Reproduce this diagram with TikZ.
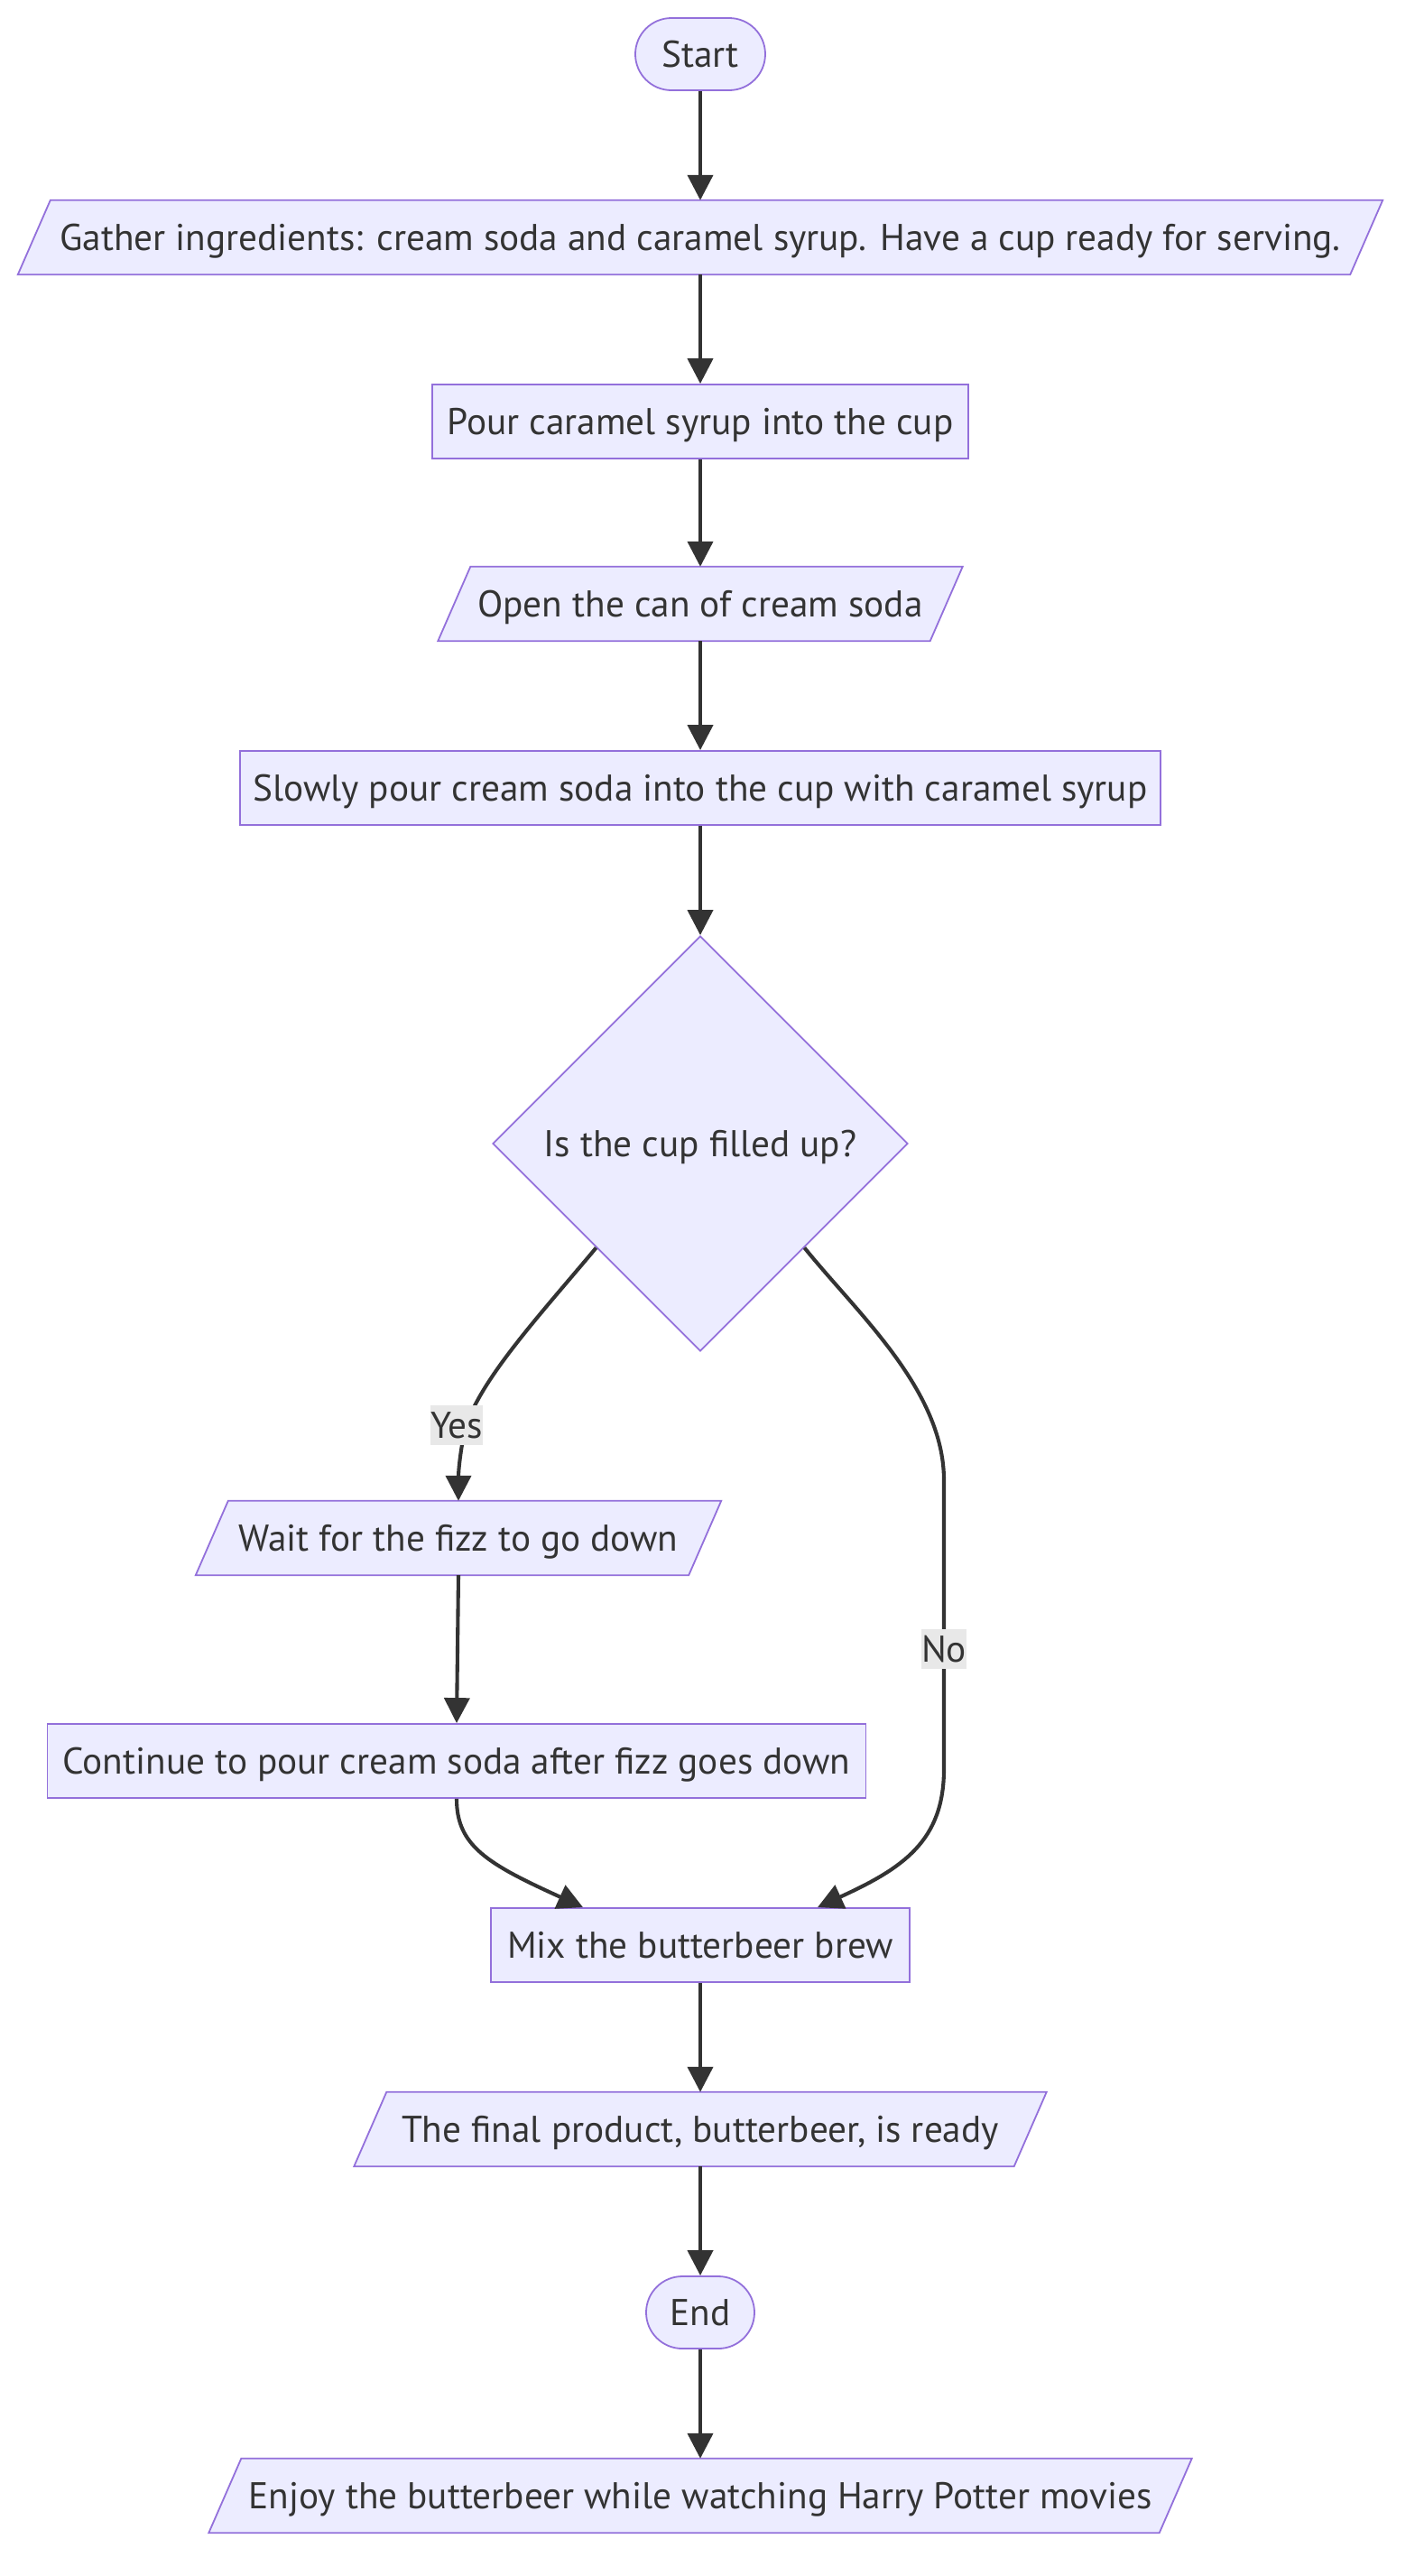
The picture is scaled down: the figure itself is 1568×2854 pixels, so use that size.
\documentclass[tikz,border=0pt]{standalone}
\usepackage{fontspec}
\setmainfont{PT Sans}
\usetikzlibrary{shapes.geometric,shapes.misc,arrows.meta,backgrounds}
\definecolor{nodefill}{HTML}{ECECFF}
\definecolor{nodeline}{HTML}{9370DB}
\definecolor{txt}{HTML}{333333}
\definecolor{lblbg}{HTML}{E8E8E8}
\begin{document}
\begin{tikzpicture}[x=1pt,y=-1pt,
  every node/.style={font=\fontsize{41.3}{49}\selectfont, text=txt, text height=29pt, text depth=0pt},
  box/.style={draw=nodeline, fill=nodefill, line width=1.8pt, rectangle, minimum height=82pt, inner sep=0pt},
  para/.style={rectangle, minimum height=82pt, inner sep=0pt},
  parashape/.style={draw=nodeline, fill=nodefill, line width=1.8pt},
  term/.style={draw=nodeline, fill=nodefill, line width=1.8pt, rounded rectangle, minimum height=80pt, inner sep=0pt},
  dec/.style={draw=nodeline, fill=nodefill, line width=1.8pt, diamond, minimum width=460pt, minimum height=460pt, inner sep=0pt, aspect=1},
  edge/.style={draw=txt, line width=4.1pt, -{Triangle[length=28pt,width=28pt]}},
  lbl/.style={fill=lblbg, inner sep=0pt, minimum height=44pt, minimum width=0pt}]
\useasboundingbox (0,0) rectangle (1568,2854);

\node[term, minimum width=144pt] (start) at (776,60) {Start};
\node[para, minimum width=1476pt] (gather) at (776,263) {Gather ingredients: cream soda and caramel syrup. Have a cup ready for serving.};
\node[box, minimum width=594pt] (pour) at (776,467) {Pour caramel syrup into the cup};
\node[para, minimum width=545pt] (open) at (776,669) {Open the can of cream soda};
\node[box, minimum width=1020pt] (slow) at (776,873) {Slowly pour cream soda into the cup with caramel syrup};
\node[dec] (dia) at (776,1267) {Is the cup filled up?};
\node[para, minimum width=546pt] (wait) at (508,1704) {Wait for the fizz to go down};
\node[box, minimum width=907pt] (cont) at (506,1951) {Continue to pour cream soda after fizz goes down};
\node[box, minimum width=464pt] (mix) at (776,2155) {Mix the butterbeer brew};
\node[para, minimum width=731pt] (final) at (776,2359) {The final product, butterbeer, is ready};
\node[term, minimum width=120pt] (end) at (776,2562) {End};
\node[para, minimum width=1053pt] (enjoy) at (776,2765) {Enjoy the butterbeer while watching Harry Potter movies};

\begin{scope}[on background layer]
\foreach \n in {gather,open,wait,final,enjoy}{
  \path[parashape] ([xshift=-18pt]\n.south west) -- ([xshift=-18pt]\n.south east) -- ([xshift=18pt]\n.north east) -- ([xshift=18pt]\n.north west) -- cycle;
}
\end{scope}

\draw[edge] (start.south) -- (gather.north);
\draw[edge] (gather.south) -- (pour.north);
\draw[edge] (pour.south) -- (open.north);
\draw[edge] (open.south) -- (slow.north);
\draw[edge] (slow.south) -- (dia.north);
\draw[edge] (dia.south west) .. controls (600,1455) and (530,1530) .. (515,1585) .. controls (510,1608) and (508,1630) .. (wait.north);
\draw[edge] (dia.south east) .. controls (950,1455) and (1046,1540) .. (1046,1640) -- (1046,1960) .. controls (1046,2040) and (1000,2070) .. ([xshift=130pt]mix.north);
\draw[edge] (wait.south) -- (cont.north);
\draw[edge] (cont.south) .. controls (506,2045) and (540,2065) .. ([xshift=-130pt]mix.north);
\draw[edge] (mix.south) -- (final.north);
\draw[edge] (final.south) -- (end.north);
\draw[edge] (end.south) -- (enjoy.north);

\node[lbl] (yes) at (506,1579) {Yes};
\node[lbl] (no) at (1046,1827) {No};
\end{tikzpicture}
\end{document}
